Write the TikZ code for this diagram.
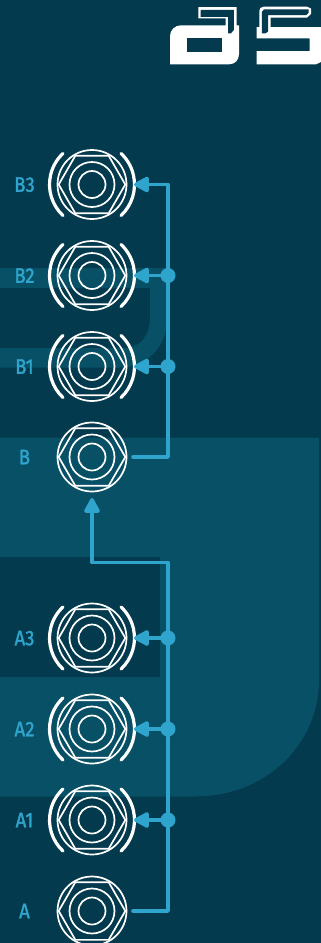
\documentclass[tikz,border=0pt]{standalone}
\usepackage{fontspec}
\usepackage{xcolor}
\usetikzlibrary{shapes.geometric, arrows.meta, calc}
\newfontfamily\jackfont[FakeStretch=0.88,FakeBold=1.6]{Fira Sans}
\definecolor{panelbg}{HTML}{033A4E}
\definecolor{panelfg}{HTML}{075066}
\definecolor{wireblue}{HTML}{2FA5CD}
\tikzset{
  jack/.style={circle, draw=white, line width=1.7pt, minimum size=69pt, inner sep=0pt, outer sep=0pt},
  nut/.style={regular polygon, regular polygon sides=6, draw=white, line width=1.7pt, minimum size=66.6pt, inner sep=0pt},
  ring/.style={circle, draw=white, line width=1.7pt, inner sep=0pt},
  bracket/.style={draw=white, line width=3.2pt, line cap=round},
  wire/.style={draw=wireblue, line width=3.6pt, line cap=round, line join=round},
  tip/.style={-{Triangle[length=17pt,width=17pt,round]}},
  dot/.style={circle, fill=wireblue, minimum size=15pt, inner sep=0pt},
  jacklabel/.style={text=wireblue, font=\jackfont\fontsize{21}{22}\selectfont, text height=14.5pt, text depth=0pt, inner sep=0pt}
}
\begin{document}
\begin{tikzpicture}[x=1pt,y=-1pt]
\useasboundingbox (0,0) rectangle (321,943);
\fill[panelbg] (0,0) rectangle (321,943);

% Panel shapes behind the jacks
\fill[panelfg] (0,437.5) -- (319,437.5) -- (319,680) .. controls (319,745) and (265,796.5) .. (195,796.5) -- (0,796.5) -- cycle;
\fill[panelbg] (0,557) rectangle (160,677);
\fill[panelfg] (0,268) -- (167,268) -- (167,320) .. controls (167,348) and (145,367.5) .. (120,367.5) -- (0,367.5) -- (0,348) -- (125,348) .. controls (140,348) and (150,335) .. (150,318) -- (150,288) -- (0,288) -- cycle;

% Logo, left letter
\fill[white] (198.3,7) -- (236.5,7) -- (236.5,25.3) -- (239,25.3) -- (239,54) .. controls (239,60) and (235,64.3) .. (229,64.3) -- (170,64.3) -- (170,36) .. controls (170,30) and (175,25.3) .. (181,25.3) -- (225.6,25.3) -- (225.6,18.3) -- (198.3,18.3) -- cycle;
\fill[panelbg] (201,9.8) -- (233.8,9.8) -- (233.8,30) -- (231,33.3) -- (228.2,33.3) -- (228.2,16.8) -- (200.6,16.8) -- (200.6,11) -- cycle;
\fill[panelbg] (186.7,38.3) rectangle (222.3,51.7);

% Logo, right letter
\fill[white] (256.7,27) -- (259.3,27) -- (259.3,11) .. controls (259.3,8.5) and (261,6.7) .. (263.5,6.7) -- (307,6.7) -- (311,8.5) -- (311,14) -- (307,17.6) -- (270.6,17.6) -- (270.6,27) -- (321,27) -- (321,62) -- (316,64.3) -- (256.7,64.3) -- (256.7,51) -- (309.7,51) -- (309.7,38.3) -- (256.7,38.3) -- cycle;
\fill[panelbg] (261.8,33.3) -- (261.8,12) -- (264,9.4) -- (308.5,9.4) -- (308.5,13) -- (306.3,15.1) -- (268.2,15.1) -- (268.2,31.5) -- (265.5,33.3) -- cycle;

% Jacks
\foreach \name/\lab/\ypos in {b3/B3/184.5, b2/B2/275.5, b1/B1/366.5, b/B/457, a3/A3/638, a2/A2/729, a1/A1/820, a/A/911} {
  \node[jack] (\name) at (92,\ypos) {};
  \node[nut] (\name nut) at (\name.center) {};
  \node[ring, minimum size=45pt] (\name mid) at (\name.center) {};
  \node[ring, minimum size=27pt] (\name hole) at (\name.center) {};
  \node[jacklabel] (\name label) at (24.5,\ypos) {\lab};
}
\foreach \name in {b3,b2,b1,a3,a2,a1} {
  \draw[bracket] (\name.center) ++(47:42.5) arc (47:-47:42.5);
  \draw[bracket] (\name.center) ++(133:42.5) arc (133:227:42.5);
}

% Output B to B1, B2, B3
\node[dot] (b1dot) at (168,366.5) {};
\node[dot] (b2dot) at (168,275.5) {};
\coordinate (bbend) at (168,457);
\coordinate (btop) at (168,184.5);
\draw[wire, tip, shorten <=6.5pt, shorten >=7.5pt] (b.east) -- (bbend) -- (btop) -- (b3.east);
\draw[wire, tip, shorten >=7.5pt] (b2dot.center) -- (b2.east);
\draw[wire, tip, shorten >=7.5pt] (b1dot.center) -- (b1.east);

% Output A to A1, A2, A3 and on to B
\node[dot] (a1dot) at (168,820) {};
\node[dot] (a2dot) at (168,729) {};
\node[dot] (a3dot) at (168,638) {};
\coordinate (abend) at (168,911);
\coordinate (atop) at (168,562.5);
\coordinate (aleft) at (92,562.5);
\draw[wire, tip, shorten <=6.5pt, shorten >=6.5pt] (a.east) -- (abend) -- (atop) -- (aleft) -- (b.south);
\draw[wire, tip, shorten >=7.5pt] (a3dot.center) -- (a3.east);
\draw[wire, tip, shorten >=7.5pt] (a2dot.center) -- (a2.east);
\draw[wire, tip, shorten >=7.5pt] (a1dot.center) -- (a1.east);
\end{tikzpicture}
\end{document}
